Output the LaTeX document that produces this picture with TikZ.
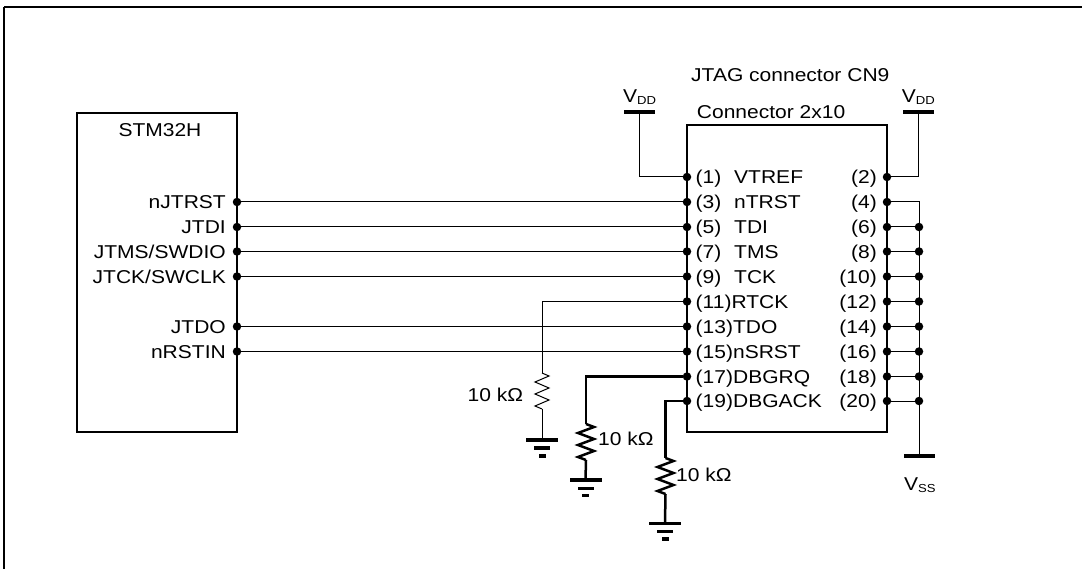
\documentclass[tikz,border=0pt]{standalone}
\usepackage{fontspec}
\setmainfont{Liberation Sans}[FakeStretch=1.13]
\tikzset{
	txt/.style={inner sep=0pt, font=\fontsize{18.6}{20}\selectfont},
	wire/.style={line width=1pt},
	thickwire/.style={line width=2.5pt, line join=miter},
	dot/.style={circle, fill, inner sep=0pt, minimum size=8.5pt},
	chip/.style={draw, line width=2pt, inner sep=0pt, minimum width=160pt, minimum height=319pt},
	conn/.style={draw, line width=2.6pt, inner sep=0pt, minimum width=200pt, minimum height=307pt},
	rail/.style={fill, inner sep=0pt, minimum width=31pt, minimum height=4pt},
	gbara/.style={fill, inner sep=0pt, minimum width=32pt, minimum height=3.5pt},
	gbarb/.style={fill, inner sep=0pt, minimum width=16pt, minimum height=3.5pt},
	gbarc/.style={fill, inner sep=0pt, minimum width=7pt, minimum height=3.5pt}
}
\newcommand{\subtxt}[1]{\raisebox{-2.3pt}{\fontsize{11.6}{12}\selectfont #1}}
\begin{document}
\begin{tikzpicture}[x=1pt, y=-1pt]
		\useasboundingbox (0,0) rectangle (1082,569);
		% рамка
		\draw [line width=1.8pt] ( 4, 7.3 ) -- ( 1082, 7.3 );
		\draw [line width=1.3pt] ( 4, 7.3 ) -- ( 4, 569 );

		% микроконтроллер
		\node [chip] (stm) at ( 157, 272.5 ) {};
		\node [txt, anchor=base west] (stmname) at ( 118.3, 136.7 ) {STM32H};
		\node [dot] (s3) at ( 237, 202 ) {};
		\node [dot] (s5) at ( 237, 227 ) {};
		\node [dot] (s7) at ( 237, 251.5 ) {};
		\node [dot] (s9) at ( 237, 276.5 ) {};
		\node [dot] (s13) at ( 237, 326.5 ) {};
		\node [dot] (s15) at ( 237, 351.5 ) {};
		\node [txt, anchor=base east] at ( 226, 208.7 ) {nJTRST};
		\node [txt, anchor=base east] at ( 226, 233.7 ) {JTDI};
		\node [txt, anchor=base east] at ( 226, 258.2 ) {JTMS/SWDIO};
		\node [txt, anchor=base east] at ( 226, 283.2 ) {JTCK/SWCLK};
		\node [txt, anchor=base east] at ( 226, 333.2 ) {JTDO};
		\node [txt, anchor=base east] at ( 226, 358.2 ) {nRSTIN};

		% разъём
		\node [conn] (cn9) at ( 787, 278.5 ) {};
		\node [txt, anchor=base west] (cn9title) at ( 691, 82 ) {JTAG connector CN9};
		\node [txt, anchor=base west] (cn9name) at ( 696.7, 118.3 ) {Connector 2x10};

		% контакты (1) и (2)
		\node [dot] (p1) at ( 687, 177 ) {};
		\node [dot] (p2) at ( 887, 177 ) {};
		\node [txt, anchor=base west] at ( 695.5, 183.7 ) {(1)};
		\node [txt, anchor=base west] at ( 734, 183.7 ) {VTREF};
		\node [txt, anchor=base east] at ( 877, 183.7 ) {(2)};

		% контакты (3) и (4)
		\node [dot] (p3) at ( 687, 202 ) {};
		\node [dot] (p4) at ( 887, 202 ) {};
		\node [txt, anchor=base west] at ( 695.5, 208.7 ) {(3)};
		\node [txt, anchor=base west] at ( 734, 208.7 ) {nTRST};
		\node [txt, anchor=base east] at ( 877, 208.7 ) {(4)};

		% контакты (5) и (6)
		\node [dot] (p5) at ( 687, 227 ) {};
		\node [dot] (p6) at ( 887, 227 ) {};
		\node [txt, anchor=base west] at ( 695.5, 233.7 ) {(5)};
		\node [txt, anchor=base west] at ( 734, 233.7 ) {TDI};
		\node [txt, anchor=base east] at ( 877, 233.7 ) {(6)};

		% контакты (7) и (8)
		\node [dot] (p7) at ( 687, 251.5 ) {};
		\node [dot] (p8) at ( 887, 251.5 ) {};
		\node [txt, anchor=base west] at ( 695.5, 258.2 ) {(7)};
		\node [txt, anchor=base west] at ( 734, 258.2 ) {TMS};
		\node [txt, anchor=base east] at ( 877, 258.2 ) {(8)};

		% контакты (9) и (10)
		\node [dot] (p9) at ( 687, 276.5 ) {};
		\node [dot] (p10) at ( 887, 276.5 ) {};
		\node [txt, anchor=base west] at ( 695.5, 283.2 ) {(9)};
		\node [txt, anchor=base west] at ( 734, 283.2 ) {TCK};
		\node [txt, anchor=base east] at ( 877, 283.2 ) {(10)};

		% контакты (11) и (12)
		\node [dot] (p11) at ( 687, 301.5 ) {};
		\node [dot] (p12) at ( 887, 301.5 ) {};
		\node [txt, anchor=base west] at ( 695.5, 308.2 ) {(11)RTCK};
		\node [txt, anchor=base east] at ( 877, 308.2 ) {(12)};

		% контакты (13) и (14)
		\node [dot] (p13) at ( 687, 326.5 ) {};
		\node [dot] (p14) at ( 887, 326.5 ) {};
		\node [txt, anchor=base west] at ( 695.5, 333.2 ) {(13)TDO};
		\node [txt, anchor=base east] at ( 877, 333.2 ) {(14)};

		% контакты (15) и (16)
		\node [dot] (p15) at ( 687, 351.5 ) {};
		\node [dot] (p16) at ( 887, 351.5 ) {};
		\node [txt, anchor=base west] at ( 695.5, 358.2 ) {(15)nSRST};
		\node [txt, anchor=base east] at ( 877, 358.2 ) {(16)};

		% контакты (17) и (18)
		\node [dot] (p17) at ( 687, 376.5 ) {};
		\node [dot] (p18) at ( 887, 376.5 ) {};
		\node [txt, anchor=base west] at ( 695.5, 383.2 ) {(17)DBGRQ};
		\node [txt, anchor=base east] at ( 877, 383.2 ) {(18)};

		% контакты (19) и (20)
		\node [dot] (p19) at ( 687, 401 ) {};
		\node [dot] (p20) at ( 887, 401 ) {};
		\node [txt, anchor=base west] at ( 695.5, 407.7 ) {(19)DBGACK};
		\node [txt, anchor=base east] at ( 877, 407.7 ) {(20)};

		% сигнальные линии
		\draw [wire] (s3) -- (p3);
		\draw [wire] (s5) -- (p5);
		\draw [wire] (s7) -- (p7);
		\draw [wire] (s9) -- (p9);
		\draw [wire] (s13) -- (p13);
		\draw [wire] (s15) -- (p15);

		% питание VDD
		\node [rail] (vddl) at ( 639.5, 112 ) {};
		\node [rail] (vddr) at ( 918.5, 112 ) {};
		\node [txt, anchor=base west] at ( 623, 102.7 ) {V\subtxt{DD}};
		\node [txt, anchor=base west] at ( 901.7, 102.7 ) {V\subtxt{DD}};
		\draw [wire] (vddl.center) |- (p1);
		\draw [wire] (vddr.center) |- (p2);

		% земля VSS
		\node [rail] (vss) at ( 919, 456 ) {};
		\node [txt, anchor=base west] at ( 904, 490 ) {V\subtxt{SS}};
		\draw [wire] (p4) -| (vss.center);
		\node [dot] (b6) at ( 919, 227 ) {};
		\node [dot] (b8) at ( 919, 251.5 ) {};
		\node [dot] (b10) at ( 919, 276.5 ) {};
		\node [dot] (b12) at ( 919, 301.5 ) {};
		\node [dot] (b14) at ( 919, 326.5 ) {};
		\node [dot] (b16) at ( 919, 351.5 ) {};
		\node [dot] (b18) at ( 919, 376.5 ) {};
		\node [dot] (b20) at ( 919, 401 ) {};
		\draw [wire] (p6) -- (b6);
		\draw [wire] (p8) -- (b8);
		\draw [wire] (p10) -- (b10);
		\draw [wire] (p12) -- (b12);
		\draw [wire] (p14) -- (b14);
		\draw [wire] (p16) -- (b16);
		\draw [wire] (p18) -- (b18);
		\draw [wire] (p20) -- (b20);

		% резистор RTCK
		\coordinate (r11t) at ( 542, 373 );
		\coordinate (r11b) at ( 542, 409 );
		\node [gbara] (g11a) at ( 542, 440 ) {};
		\node [gbarb] (g11b) at ( 542, 448 ) {};
		\node [gbarc] (g11c) at ( 542, 456 ) {};
		\draw [wire] (p11) -| (r11t);
		\draw [wire] (r11t) -- ++(7,3) -- ++(-14,6) -- ++(14,6) -- ++(-14,6) -- ++(14,6) -- ++(-14,6) -- (r11b);
		\draw [wire] (r11b) -- (g11a.center);
		\node [txt, anchor=base east] at ( 523.3, 401.5 ) {10 kΩ};

		% резистор DBGRQ
		\coordinate (r17t) at ( 586, 424 );
		\coordinate (r17b) at ( 586, 460 );
		\node [gbara] (g17a) at ( 585.5, 480 ) {};
		\node [gbarb] (g17b) at ( 585.5, 488.3 ) {};
		\node [gbarc] (g17c) at ( 585.5, 495.5 ) {};
		\draw [thickwire] (p17) -| (r17t);
		\draw [thickwire] (r17t) -- ++(8,3) -- ++(-16,6) -- ++(16,6) -- ++(-16,6) -- ++(16,6) -- ++(-16,6) -- (r17b);
		\draw [thickwire] (r17b) -- (g17a.center);
		\node [txt, anchor=base west] at ( 598, 445 ) {10 kΩ};

		% резистор DBGACK
		\coordinate (r19t) at ( 665.5, 458 );
		\coordinate (r19b) at ( 665.5, 494 );
		\node [gbara] (g19a) at ( 665, 523.3 ) {};
		\node [gbarb] (g19b) at ( 665, 531.7 ) {};
		\node [gbarc] (g19c) at ( 665, 539 ) {};
		\draw [thickwire] (p19) -| (r19t);
		\draw [thickwire] (r19t) -- ++(8,3) -- ++(-16,6) -- ++(16,6) -- ++(-16,6) -- ++(16,6) -- ++(-16,6) -- (r19b);
		\draw [thickwire] (r19b) -- (g19a.center);
		\node [txt, anchor=base west] at ( 676, 481.7 ) {10 kΩ};
	\end{tikzpicture}
\end{document}
